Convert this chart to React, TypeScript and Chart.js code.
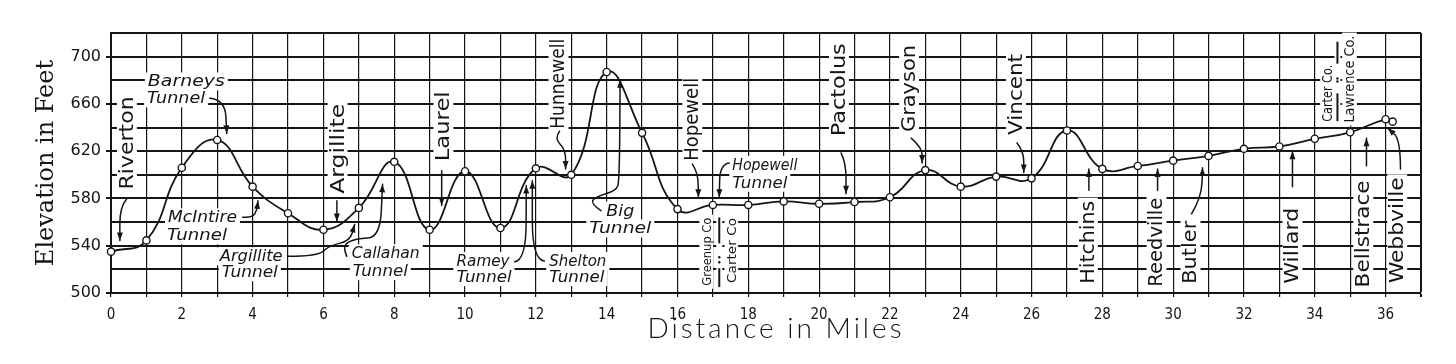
import React, { useEffect, useRef } from 'react';
import { Chart, registerables } from 'chart.js';

Chart.register(...registerables);

// ---- data ----
const miles = [0, 1, 2, 3, 4, 5, 6, 7, 8, 9, 10, 11, 12, 13, 14, 15, 16, 17, 18, 19, 20, 21, 22, 23, 24, 25, 26, 27, 28, 29, 30, 31, 32, 33, 34, 35, 36, 36.2];
const elevation = [535, 544.5, 606, 629.5, 590, 567.5, 553.5, 572, 611, 553.5, 603, 555, 605.5, 600, 687, 635.5, 571, 574.5, 574.5, 577.5, 575.5, 577, 581, 604, 590, 598.5, 597, 637.5, 605, 607.5, 612, 616, 622, 624, 630.5, 636, 647, 645];
const yTickLabels = [500, 540, 580, 620, 660, 700];
const xTickLabels = [0, 2, 4, 6, 8, 10, 12, 14, 16, 18, 20, 22, 24, 26, 28, 30, 32, 34, 36];
const xTitle = 'Distance in Miles';
const yTitle = 'Elevation in Feet';

// vertical station names: [text, mile, feet (centre), length px, font px]
type VLabel = [string, number, number, number, number];
const stationLabels: VLabel[] = [
  ['Riverton', 0.45, 627, 93, 19],
  ['Argillite', 6.4, 622, 90, 19],
  ['Laurel', 9.39, 641, 70, 19],
  ['Hunnewell', 12.64, 677, 90, 19],
  ['Hopewell', 16.42, 647, 83, 19],
  ['Pactolus', 20.56, 672, 93, 19],
  ['Grayson', 22.54, 673, 87, 19],
  ['Vincent', 25.56, 668, 81, 19],
  ['Hitchins', 27.59, 543, 83, 19],
  ['Reedville', 29.53, 543, 89, 19],
  ['Butler', 30.49, 534.5, 63, 19],
  ['Willard', 33.37, 540, 76, 19],
  ['Bellstrace', 35.37, 550, 107, 19],
  ['Webbville', 36.33, 553, 106, 19],
];
const countyLabels: VLabel[] = [
  ['Carter Co.', 34.36, 669, 57, 14],
  ['Lawrence Co.', 34.98, 681, 87, 14],
  ['Greenup Co', 16.81, 535, 68, 13],
  ['Carter Co', 17.52, 536, 65, 13],
];
// county boundary markers: mile, solid segments (feet), dots (feet)
const boundaries: { x: number; segs: [number, number][]; dots: number[] }[] = [
  { x: 34.64, segs: [[694, 712.6], [645.4, 668.9]], dots: [679, 681.5] },
  { x: 17.18, segs: [[542, 563.9], [505, 521]], dots: [526, 530.3] },
];
// italic tunnel labels, each line: [text, left mile, feet (centre), width px]
type HLine = [string, number, number, number];
const tunnelLabels: HLine[][] = [
  [['Barneys', 1.04, 679, 77], ['Tunnel', 1.02, 664.7, 58]],
  [['McIntire', 1.61, 564, 69], ['Tunnel', 1.58, 548.7, 60]],
  [['Argillite', 3.07, 531, 63], ['Tunnel', 3.13, 517.6, 56]],
  [['Callahan', 6.8, 533.6, 68], ['Tunnel', 6.83, 518.5, 55]],
  [['Ramey', 9.76, 527, 53], ['Tunnel', 9.76, 513.4, 55]],
  [['Shelton', 12.38, 527, 57], ['Tunnel', 12.38, 513.4, 55]],
  [['Big', 13.99, 569.7, 28], ['Tunnel', 13.51, 554.6, 62]],
  [['Hopewell', 17.55, 608.4, 65], ['Tunnel', 17.55, 593.3, 55]],
];
// leader arrows (mile, feet), arrow head at the last point
const arrows: [number, number][][] = [
  [[0.45, 580], [0.25, 573], [0.25, 544.5]],
  [[6.38, 578], [6.38, 560.5]],
  [[9.34, 603.4], [9.34, 574]],
  [[12.67, 637], [12.52, 631], [12.84, 621], [12.84, 605]],
  [[16.42, 609], [16.58, 602], [16.59, 581]],
  [[20.62, 618.5], [20.76, 610], [20.76, 584]],
  [[22.6, 631], [22.91, 623], [22.91, 610]],
  [[25.59, 627], [25.78, 620], [25.78, 602]],
  [[27.62, 587], [27.62, 605]],
  [[29.56, 587], [29.56, 605]],
  [[30.52, 567], [30.8, 581], [30.83, 606]],
  [[33.37, 590], [33.37, 620]],
  [[35.46, 607.6], [35.46, 631]],
  [[36.42, 605], [36.42, 630], [36.06, 639.5]],
  [[2.79, 664.7], [3.22, 663.5], [3.27, 635]],
  [[3.72, 564], [4.0, 564], [4.12, 570], [4.15, 578]],
  [[4.99, 531], [5.85, 531], [6.15, 540], [6.75, 544], [6.88, 558]],
  [[6.66, 531], [6.52, 540], [6.9, 546], [7.6, 547], [7.67, 592]],
  [[11.4, 526.5], [11.72, 527.5], [11.73, 591]],
  [[12.24, 527], [11.9, 528], [11.9, 595]],
  [[13.84, 569.7], [13.56, 575.4], [13.65, 581], [14.27, 586.6], [14.36, 595], [14.38, 680.5]],
  [[17.46, 610], [17.2, 609], [17.18, 581]],
];

const INK = '#151515';
const SANS = "'DejaVu Sans', sans-serif";

function vBox(ctx: CanvasRenderingContext2D, cx: number, cy: number, len: number, size: number) {
  const th = size * 1.05;
  ctx.fillStyle = '#fff';
  ctx.fillRect(cx - th / 2, cy - len / 2 - 3, th, len + 6);
}
function vText(ctx: CanvasRenderingContext2D, text: string, cx: number, cy: number, len: number, size: number) {
  ctx.save();
  ctx.translate(cx, cy);
  ctx.rotate(-Math.PI / 2);
  ctx.font = `${size}px ${SANS}`;
  const w = ctx.measureText(text).width;
  ctx.scale(len / w, 1);
  ctx.textAlign = 'center';
  ctx.textBaseline = 'middle';
  ctx.fillStyle = INK;
  ctx.fillText(text, 0, 1);
  ctx.restore();
}

const annotationPlugin = {
  id: 'profileAnnotations',
  beforeDatasetsDraw(chart: any) {
    const { ctx } = chart;
    const xs = chart.scales.x;
    const ys = chart.scales.y;
    const X = (v: number) => xs.getPixelForValue(v);
    const Y = (v: number) => ys.getPixelForValue(v);
    ctx.save();
    // white backgrounds
    for (const [, mx, fy, len, size] of [...stationLabels, ...countyLabels]) vBox(ctx, X(mx), Y(fy), len, size);
    ctx.fillStyle = '#fff';
    for (const lab of tunnelLabels) for (const [, mx, fy, w] of lab) ctx.fillRect(X(mx) - 3, Y(fy) - 9, w + 6, 18);
    for (const b of boundaries) {
      const all = b.segs.flat();
      const top = Y(Math.max(...all));
      const bot = Y(Math.min(...all));
      ctx.fillRect(X(b.x) - 3, top - 2, 6, bot - top + 4);
    }
    // texts
    for (const [t, mx, fy, len, size] of [...stationLabels, ...countyLabels]) vText(ctx, t, X(mx), Y(fy), len, size);
    ctx.fillStyle = INK;
    ctx.textAlign = 'left';
    ctx.textBaseline = 'middle';
    for (const lab of tunnelLabels) {
      for (const [t, mx, fy, w] of lab) {
        ctx.save();
        ctx.font = `italic 15px ${SANS}`;
        const mw = ctx.measureText(t).width;
        ctx.translate(X(mx), Y(fy));
        ctx.scale(w / mw, 1);
        ctx.fillText(t, 0, 1);
        ctx.restore();
      }
    }
    // boundaries
    ctx.strokeStyle = INK;
    ctx.lineWidth = 2;
    for (const b of boundaries) {
      const px = X(b.x);
      for (const [a, c] of b.segs) {
        ctx.beginPath();
        ctx.moveTo(px, Y(a));
        ctx.lineTo(px, Y(c));
        ctx.stroke();
      }
      for (const d of b.dots) {
        ctx.beginPath();
        ctx.arc(px, Y(d), 1.2, 0, Math.PI * 2);
        ctx.fill();
      }
    }
    // arrows
    ctx.lineWidth = 1.5;
    ctx.lineJoin = 'round';
    ctx.lineCap = 'round';
    for (const a of arrows) {
      const p = a.map(([mx, fy]) => [X(mx), Y(fy)]);
      const n = p.length;
      ctx.beginPath();
      ctx.moveTo(p[0][0], p[0][1]);
      for (let i = 1; i < n - 1; i++) {
        const mxp = (p[i][0] + p[i + 1][0]) / 2;
        const myp = (p[i][1] + p[i + 1][1]) / 2;
        ctx.quadraticCurveTo(p[i][0], p[i][1], mxp, myp);
      }
      ctx.lineTo(p[n - 1][0], p[n - 1][1]);
      ctx.stroke();
      const [ex, ey] = p[n - 1];
      const [sx, sy] = p[n - 2];
      const ang = Math.atan2(ey - sy, ex - sx);
      const L = 8, W = 3;
      ctx.beginPath();
      ctx.moveTo(ex, ey);
      ctx.lineTo(ex - L * Math.cos(ang) + W * Math.sin(ang), ey - L * Math.sin(ang) - W * Math.cos(ang));
      ctx.lineTo(ex - L * Math.cos(ang) - W * Math.sin(ang), ey - L * Math.sin(ang) + W * Math.cos(ang));
      ctx.closePath();
      ctx.fill();
    }
    ctx.restore();
  },
  afterDraw(chart: any) {
    // x-axis title drawn with letter spacing (hand-lettered look)
    const { ctx, chartArea } = chart;
    ctx.save();
    ctx.font = `300 28px Lato, 'DejaVu Sans'`;
    (ctx as any).letterSpacing = '3px';
    ctx.fillStyle = INK;
    ctx.textAlign = 'center';
    ctx.textBaseline = 'middle';
    ctx.fillText(xTitle, (chartArea.left + chartArea.right) / 2 + 10, 329);
    ctx.restore();
  },
};

export default function App() {
  const ref = useRef<HTMLCanvasElement | null>(null);
  useEffect(() => {
    if (!ref.current) return;
    const chart = new Chart(ref.current, {
      type: 'line',
      data: {
        datasets: [
          {
            data: miles.map((m, i) => ({ x: m, y: elevation[i] })),
            borderColor: INK,
            borderWidth: 1.8,
            tension: 0.45,
            pointRadius: 3.6,
            pointBackgroundColor: '#fff',
            pointBorderColor: INK,
            pointBorderWidth: 1.4,
            fill: false,
            clip: false as any,
          },
        ],
      },
      options: {
        responsive: false,
        animation: false,
        layout: { padding: { top: 33, right: 35, left: 0, bottom: 0 } },
        plugins: { legend: { display: false }, tooltip: { enabled: false } },
        scales: {
          x: {
            type: 'linear',
            min: 0,
            max: 37,
            ticks: {
              stepSize: 1,
              autoSkip: false,
              maxRotation: 0,
              padding: 9,
              color: INK,
              font: { family: "'DejaVu Sans Condensed', 'Liberation Sans Narrow', 'DejaVu Sans'", size: 15 },
              callback: (v: any) => (xTickLabels.includes(Number(v)) ? String(v) : ''),
            },
            grid: {
              color: INK,
              lineWidth: (c: any) => (c.tick && c.tick.value === 37 ? 2 : 1.2),
              tickLength: 4,
            },
            border: { color: INK, width: 2 },
            title: { display: false, text: xTitle },
            afterFit: (s: any) => {
              s.height = 71;
            },
          },
          y: {
            min: 500,
            max: 720,
            ticks: {
              stepSize: 20,
              padding: 5,
              color: INK,
              font: { family: SANS, size: 16 },
              callback: (v: any) => (yTickLabels.includes(Number(v)) ? String(v) : ''),
            },
            grid: {
              color: INK,
              lineWidth: 2,
              tickLength: 5,
              tickColor: (c: any) => (c.tick && yTickLabels.includes(c.tick.value) ? INK : 'rgba(0,0,0,0)'),
            },
            border: { color: INK, width: 2 },
            title: {
              display: true,
              text: yTitle,
              color: INK,
              font: { family: "'DejaVu Serif', serif", size: 24 },
              padding: { top: 32, bottom: 0 },
            },
            afterFit: (s: any) => {
              s.width = 111;
            },
          },
        },
      },
      plugins: [annotationPlugin],
    } as any);
    return () => chart.destroy();
  }, []);
  return (
    <div style={{ position: 'absolute', left: 0, top: 0, width: 1456, height: 364, background: '#fff' }}>
      <canvas ref={ref} width={1456} height={364} style={{ display: 'block' }} />
    </div>
  );
}
